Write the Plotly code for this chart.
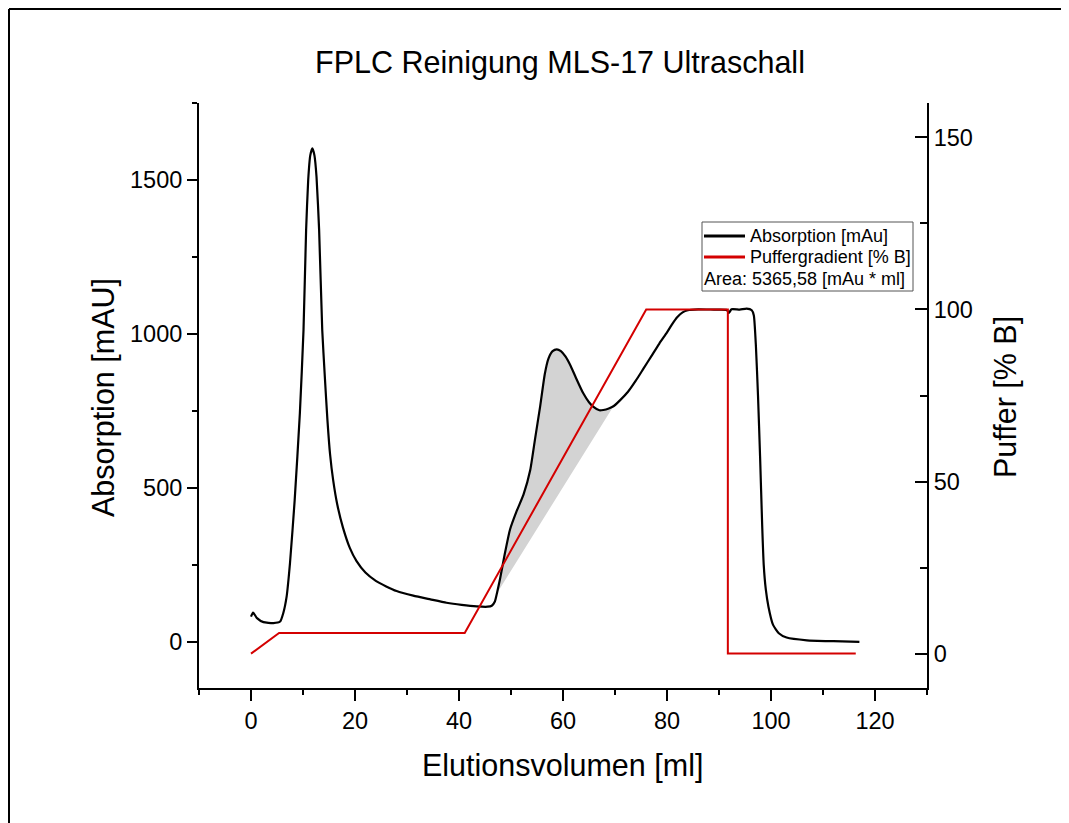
import numpy as np
import plotly.graph_objects as go

# ---------------- data ----------------
abs_x = [0.0, 0.4, 1.15, 2.4, 4.3, 5.6, 6.2, 6.85, 7.5, 8.4, 9.4, 10.1, 10.6, 11.0, 11.4, 11.8,
         12.2, 12.6, 13.1, 13.7, 14.2, 14.7, 15.2, 15.8, 16.6, 17.7, 19.0, 20.3, 22.0, 24.0, 26.0,
         28.0, 31.2, 34.5, 37.6, 40.5, 43.4, 45.5, 46.3, 46.9, 47.3, 47.9, 48.8, 49.8, 51.1,
         52.4, 53.7, 54.6, 55.6, 56.5, 57.2, 58.0, 58.8, 59.6, 60.5, 61.5, 62.5, 63.9, 65.0,
         65.8, 67.0, 67.75, 68.8, 69.7, 71.0, 72.5, 74.0, 75.5, 77.0, 78.5, 80.0, 81.0, 82.0,
         83.0, 84.0, 86.0, 89.0, 91.5, 91.9, 92.4, 94.0, 95.3, 96.3, 96.7, 97.1, 97.5, 97.9,
         98.3, 98.6, 99.0, 99.5, 100.4, 101.5, 103.0, 106.9, 112.0, 117.0]
abs_y = [82, 95, 77, 64, 61, 66, 93, 147, 256, 460, 743, 1013, 1338, 1500, 1580, 1603,
         1580, 1510, 1338, 1013, 860, 720, 610, 525, 445, 370, 305, 262, 225, 198, 180,
         165, 150, 138, 127, 120, 115, 114, 117, 131, 158, 205, 285, 364, 425,
         478, 558, 656, 764, 870, 920, 944, 950, 944, 926, 895, 857, 807, 778,
         764, 752, 753, 758, 765, 785, 812, 848, 888, 928, 968, 1005, 1032, 1055,
         1070, 1077, 1080, 1079, 1078, 1068, 1080, 1079, 1082, 1077, 1060, 960, 800, 602,
         380, 250, 170, 115, 55, 28, 14, 5, 2, 0]

grad_x = [0.0, 5.4, 41.1, 76.0, 91.7, 91.7, 116.3]
grad_y = [0, 6, 6, 100, 100, 0, 0]

area_start_x = 47.3
area_end_x = 69.7
area_label = "Area: 5365,58 [mAu * ml]"

title_text = "FPLC Reinigung MLS-17 Ultraschall"
x_title = "Elutionsvolumen [ml]"
y_title = "Absorption [mAU]"
y2_title = "Puffer [% B]"
legend_names = ["Absorption [mAu]", "Puffergradient [% B]"]

# ---------------- layout helpers (page pixel coordinates) ----------------
OFF = 8                      # default body margin of the html page
W, H = 1069 - OFF, 823 - OFF
L, R, T, B = 199, 927, 103, 688   # plot area in page pixels
FONT = "Arial, Liberation Sans, sans-serif"
RED = "#d40000"


def px(p):
    return (p - L) / (R - L)


def py(p):
    return (B - p) / (B - T)


ax = np.array(abs_x, dtype=float)
ay = np.array(abs_y, dtype=float)
mask = (ax >= area_start_x) & (ax <= area_end_x)
seg_x = ax[mask]
seg_y = ay[mask]
base_x = [area_start_x, area_end_x]
base_y = [float(np.interp(area_start_x, ax, ay)), float(np.interp(area_end_x, ax, ay))]

fig = go.Figure()

fig.add_trace(go.Scatter(x=base_x, y=base_y, mode="lines", line=dict(width=0, color="#d3d3d3"),
                         showlegend=False, hoverinfo="skip"))
fig.add_trace(go.Scatter(x=seg_x, y=seg_y, mode="lines",
                         line=dict(width=0, color="#d3d3d3", shape="spline", smoothing=0.5),
                         fill="tonexty", fillcolor="#d3d3d3", showlegend=False, hoverinfo="skip"))

fig.add_trace(go.Scatter(x=abs_x, y=abs_y, mode="lines", name=legend_names[0],
                         line=dict(color="black", width=2.2, shape="spline", smoothing=0.5),
                         showlegend=False))
fig.add_trace(go.Scatter(x=grad_x, y=grad_y, mode="lines", name=legend_names[1], yaxis="y2",
                         line=dict(color=RED, width=2), showlegend=False))

tickfont = dict(family=FONT, size=23.5, color="black")

fig.update_layout(
    width=W, height=H,
    margin=dict(l=L - OFF, r=(W + OFF) - R, t=T - OFF, b=(H + OFF) - B, pad=0),
    paper_bgcolor="white", plot_bgcolor="white",
    showlegend=False,
    font=dict(family=FONT, color="black"),
    xaxis=dict(range=[-10, 130], showgrid=False, zeroline=False, showline=True,
               linecolor="black", linewidth=2, ticks="outside", ticklen=11, tickwidth=2,
               tickcolor="black", tick0=0, dtick=20, tickfont=tickfont,
               minor=dict(tick0=0, dtick=10, ticks="outside", ticklen=5, tickwidth=2, tickcolor="black")),
    yaxis=dict(range=[-150, 1750], showgrid=False, zeroline=False, showline=True,
               linecolor="black", linewidth=2, ticks="outside", ticklen=10, tickwidth=2,
               tickcolor="black", tick0=0, dtick=500, tickfont=tickfont,
               minor=dict(tick0=0, dtick=250, ticks="outside", ticklen=5, tickwidth=2, tickcolor="black")),
    yaxis2=dict(range=[-10, 160], overlaying="y", side="right", showgrid=False, zeroline=False,
                showline=True, linecolor="black", linewidth=2, ticks="inside", ticklen=12,
                tickwidth=2, tickcolor="black", tick0=0, dtick=50, tickfont=tickfont,
                minor=dict(tick0=0, dtick=25, ticks="inside", ticklen=7, tickwidth=2, tickcolor="black")),
)

annotations = [
    dict(text=title_text, x=px(560), y=py(62), font=dict(size=30.5, family=FONT)),
    dict(text=x_title, x=px(562), y=py(765), font=dict(size=30.5, family=FONT)),
    dict(text=y_title, x=px(103), y=py(398), textangle=-90, font=dict(size=30.5, family=FONT)),
    dict(text=y2_title, x=px(1005), y=py(397), textangle=-90, font=dict(size=30.5, family=FONT)),
    dict(text=legend_names[0], x=px(748), y=py(236), xanchor="left", font=dict(size=18, family=FONT)),
    dict(text=legend_names[1], x=px(748), y=py(257), xanchor="left", font=dict(size=18, family=FONT)),
    dict(text=area_label, x=px(702), y=py(279), xanchor="left", font=dict(size=18, family=FONT)),
]
for a in annotations:
    a.setdefault("xanchor", "center")
    a.update(xref="paper", yref="paper", showarrow=False, yanchor="middle")
    a["font"]["color"] = "black"
fig.update_layout(annotations=annotations)

shapes = [
    # outer frame: only its top and left edges fall inside the picture
    dict(type="line", xref="paper", yref="paper", x0=px(9), x1=px(1200), y0=py(9), y1=py(9),
         line=dict(color="black", width=2), layer="below"),
    dict(type="line", xref="paper", yref="paper", x0=px(9), x1=px(9), y0=py(9), y1=py(1000),
         line=dict(color="black", width=2), layer="below"),
    # legend box
    dict(type="rect", xref="paper", yref="paper", x0=px(702), x1=px(913), y0=py(222), y1=py(291),
         line=dict(color="#555555", width=1), fillcolor="white", layer="above"),
    dict(type="line", xref="paper", yref="paper", x0=px(704), x1=px(745), y0=py(236), y1=py(236),
         line=dict(color="black", width=3)),
    dict(type="line", xref="paper", yref="paper", x0=px(704), x1=px(745), y0=py(257), y1=py(257),
         line=dict(color=RED, width=3)),
]
fig.update_layout(shapes=shapes)

fig.write_html("out.html")
